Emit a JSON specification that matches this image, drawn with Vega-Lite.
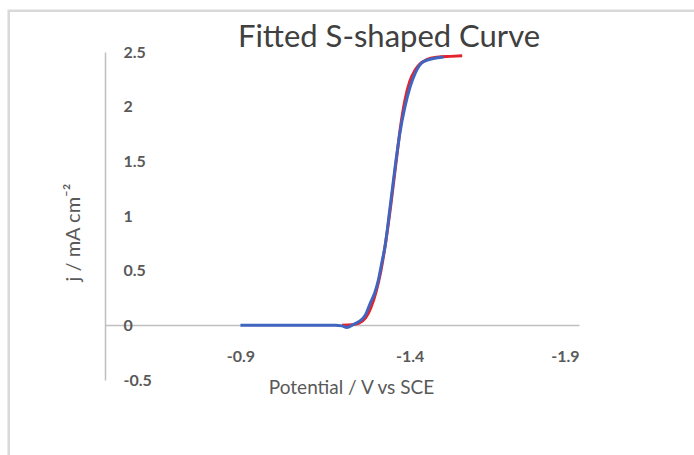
{
  "$schema": "https://vega.github.io/schema/vega-lite/v6.json",
  "autosize": {"type": "none"},
  "padding": {"left": 105, "top": 52, "right": 115, "bottom": 75},
  "width": 474,
  "height": 328,
  "background": "white",
  "title": {
    "text": "Fitted S-shaped Curve",
    "font": "Lato",
    "fontSize": 31,
    "fontWeight": "normal",
    "color": "#404040",
    "anchor": "middle",
    "frame": "group",
    "baseline": "alphabetic",
    "dx": 47,
    "dy": 68.5,
    "offset": 0
  },
  "datasets": {
    "measured": [
      {"potential": -0.9, "j": 0.0},
      {"potential": -1.0, "j": 0.0},
      {"potential": -1.1, "j": 0.0},
      {"potential": -1.18, "j": 0.0},
      {"potential": -1.2, "j": -0.005},
      {"potential": -1.214, "j": -0.02},
      {"potential": -1.235, "j": 0.01},
      {"potential": -1.253, "j": 0.04},
      {"potential": -1.27, "j": 0.1},
      {"potential": -1.283, "j": 0.2},
      {"potential": -1.297, "j": 0.3},
      {"potential": -1.307, "j": 0.41},
      {"potential": -1.318, "j": 0.58},
      {"potential": -1.327, "j": 0.72},
      {"potential": -1.342, "j": 1.08},
      {"potential": -1.357, "j": 1.45},
      {"potential": -1.371, "j": 1.76},
      {"potential": -1.386, "j": 2.0},
      {"potential": -1.401, "j": 2.18},
      {"potential": -1.416, "j": 2.305},
      {"potential": -1.44, "j": 2.41},
      {"potential": -1.47, "j": 2.44},
      {"potential": -1.5, "j": 2.455}
    ],
    "fitted": [
      {"potential": -1.2, "j": 0.0},
      {"potential": -1.23, "j": 0.005},
      {"potential": -1.25, "j": 0.02},
      {"potential": -1.27, "j": 0.07},
      {"potential": -1.285, "j": 0.16},
      {"potential": -1.3, "j": 0.3},
      {"potential": -1.315, "j": 0.5},
      {"potential": -1.33, "j": 0.78},
      {"potential": -1.345, "j": 1.12},
      {"potential": -1.36, "j": 1.5},
      {"potential": -1.373, "j": 1.82},
      {"potential": -1.386, "j": 2.06},
      {"potential": -1.4, "j": 2.23},
      {"potential": -1.415, "j": 2.33},
      {"potential": -1.43, "j": 2.39},
      {"potential": -1.45, "j": 2.43},
      {"potential": -1.48, "j": 2.452},
      {"potential": -1.52, "j": 2.46},
      {"potential": -1.555, "j": 2.465}
    ],
    "frame": [
      {"x0": -0.2156, "x1": -2.4, "y0": 2.878, "y1": -1.4}
    ]
  },
  "encoding": {
    "x": {
      "type": "quantitative",
      "scale": {"domain": [-0.5, -1.9], "nice": false, "zero": false},
      "title": "Potential / V vs SCE",
      "axis": {
        "values": [-0.9, -1.4, -1.9],
        "labelExpr": "toString(datum.value)",
        "offset": -55,
        "ticks": true,
        "tickSize": 0,
        "labelPadding": 23,
        "titlePadding": 14,
        "titleX": 246,
        "grid": false
      }
    },
    "y": {
      "type": "quantitative",
      "scale": {"domain": [-0.5, 2.5], "nice": false, "zero": false},
      "title": "j / mA cm⁻²",
      "axis": {
        "values": [-0.5, 0, 0.5, 1, 1.5, 2, 2.5],
        "labelExpr": "toString(datum.value)",
        "ticks": true,
        "tickSize": 0,
        "labelAlign": "left",
        "labelPadding": -18,
        "titleX": -32,
        "titleY": 180,
        "titleFontSize": 20,
        "titleBaseline": "middle",
        "grid": false
      }
    }
  },
  "layer": [
    {
      "data": {"name": "frame"},
      "mark": {"type": "rect", "fill": null, "stroke": "#d9d9d9", "strokeWidth": 2.5, "clip": false},
      "encoding": {
        "x": {"field": "x0"},
        "x2": {"field": "x1"},
        "y": {"field": "y0"},
        "y2": {"field": "y1"}
      }
    },
    {
      "data": {"name": "fitted"},
      "mark": {"type": "line", "color": "#e3232c", "strokeWidth": 3, "interpolate": "monotone"},
      "encoding": {
        "x": {"field": "potential"},
        "y": {"field": "j"}
      }
    },
    {
      "data": {"name": "measured"},
      "mark": {"type": "line", "color": "#4065c0", "strokeWidth": 3, "interpolate": "monotone"},
      "encoding": {
        "x": {"field": "potential"},
        "y": {"field": "j"}
      }
    }
  ],
  "config": {
    "view": {"stroke": null},
    "axis": {
      "domainColor": "#bfbfbf",
      "domainWidth": 1.5,
      "labelFont": "Lato",
      "labelFontSize": 16,
      "labelFontWeight": "bold",
      "labelColor": "#595959",
      "titleFont": "Lato",
      "titleFontSize": 19,
      "titleFontWeight": "normal",
      "titleColor": "#595959"
    }
  }
}
